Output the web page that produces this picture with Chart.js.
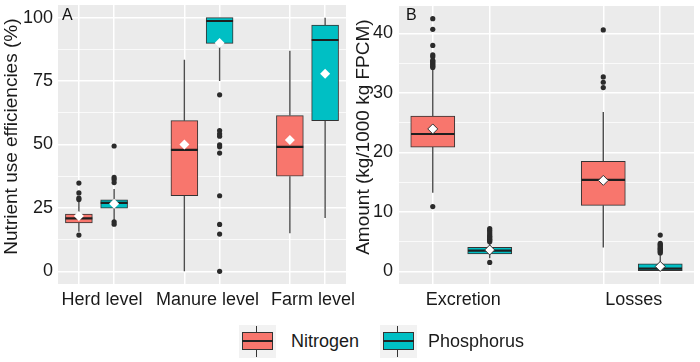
<!DOCTYPE html>
<html>
<head>
<meta charset="utf-8">
<script src="https://cdn.jsdelivr.net/npm/chart.js@4.4.0/dist/chart.umd.min.js"></script>
<style>
  html, body { margin: 0; padding: 0; background: #ffffff; }
  body { width: 700px; height: 362px; position: relative; overflow: hidden;
         font-family: "Liberation Sans", Arial, sans-serif; color: #1a1a1a; }
  canvas { position: absolute; top: 0; }
  .tag { position: absolute; font-size: 16px; line-height: 1; color: #111; }
  .key { position: absolute; top: 325px; width: 37px; height: 33px; background: #F2F2F2; }
  .key .wh { position: absolute; left: 17px; top: 1px; width: 1.3px; height: 31px; background: #333; }
  .key .bx { position: absolute; left: 3px; top: 7px; width: 31px; height: 18px; box-sizing: border-box; border: 1px solid #333; }
  .key .md { position: absolute; left: 3px; top: 15.3px; width: 31px; height: 1.6px; background: #222; }
  .lab { position: absolute; top: 332px; font-size: 18px; line-height: 1; color: #1a1a1a; white-space: nowrap; }
</style>
</head>
<body>
<canvas id="ca" width="370" height="320" style="left:0px;width:370px;height:320px"></canvas>
<canvas id="cb" width="350" height="320" style="left:350px;width:350px;height:320px"></canvas>
<div class="tag" style="left:62px;top:7px">A</div>
<div class="tag" style="left:406px;top:7px">B</div>
<div id="legend"></div>
<script>
// ---------------- data ----------------
const categoriesA = ["Herd level", "Manure level", "Farm level"];
const categoriesB = ["Excretion", "Losses"];
const seriesNames = ["Nitrogen", "Phosphorus"];
const seriesColors = ["#F8766D", "#00BFC4"];
const yTicksA = [0, 25, 50, 75, 100];
const yTicksB = [0, 10, 20, 30, 40];
const yTitleA = "Nutrient use efficiencies (%)";
const yTitleB = "Amount (kg/1000 kg FPCM)";

// five-number summaries: [lower whisker, Q1, median, Q3, upper whisker]
const nitrogenBoxA   = [[15.6, 19.1, 20.9, 22.6, 27.5], [0, 29.8, 47.9, 59.4, 83.4], [15.0, 37.5, 49.1, 61.4, 87.0]];
const phosphorusBoxA = [[20.1, 24.9, 27.0, 28.2, 32.5], [75.0, 89.9, 98.7, 100, 100], [21.0, 59.4, 91.2, 97.1, 100]];
const nitrogenMeanA   = [21.8, 50.0, 51.8];
const phosphorusMeanA = [26.6, 90.0, 77.9];
const nitrogenOutliersA   = [[34.8, 30.9, 28.9, 28.3, 14.3], [], []];
const phosphorusOutliersA = [[49.4, 37.0, 36.2, 35.0, 19.5, 18.6],
                             [69.6, 55.5, 54.2, 53.3, 49.9, 49.1, 46.6, 29.8, 18.5, 14.7, 0], []];

const nitrogenBoxB   = [[13.2, 20.9, 23.1, 26.1, 34.1], [4.0, 11.1, 15.4, 18.5, 26.8]];
const phosphorusBoxB = [[2.2, 2.93, 3.48, 4.03, 4.9], [0, 0, 0.45, 1.27, 2.9]];
const nitrogenMeanB   = [23.95, 15.3];
const phosphorusMeanB = [3.6, 0.83];
const nitrogenOutliersB   = [[42.5, 40.7, 38.0, 36.4, 36.1, 35.5, 35.3, 35.1, 34.9, 34.7, 34.5, 34.3, 10.9],
                             [40.6, 32.7, 31.8, 30.9]];
const phosphorusOutliersB = [[7.2, 6.9, 6.6, 6.3, 6.0, 5.8, 5.6, 5.4, 5.2, 5.0, 1.5],
                             [6.1, 4.7, 4.5, 4.3, 4.1, 3.9, 3.7, 3.5, 3.3, 3.1]];

// ---------------- drawing ----------------
Chart.defaults.font.family = "'Liberation Sans', Arial, sans-serif";
const TEXT = "#1a1a1a";

const panelBg = {
  id: "panelBg",
  beforeDraw(chart) {
    const a = chart.chartArea, ctx = chart.ctx;
    ctx.save();
    ctx.fillStyle = "#EBEBEB";
    ctx.fillRect(a.left, a.top, a.right - a.left, a.bottom - a.top);
    ctx.restore();
  }
};

function makePanel(o) {
  const n = o.categories.length;
  const xMin = 1 - 0.365, xMax = n + 0.365;
  const plotW = o.width - o.axisWidth - o.rightPad;
  const ppu = plotW / (xMax - xMin);
  const boxW = 0.255, dodge = 0.167;
  const boxes = [o.nBox, o.pBox], means = [o.nMean, o.pMean], outs = [o.nOut, o.pOut];
  const whisk = [], meds = [], outPts = [], meanPts = [], bars = [];
  const boxPositions = [];
  boxes.forEach((list, s) => {
    const barData = [];
    list.forEach((b, i) => {
      const x = i + 1 + (s === 0 ? -dodge : dodge);
      boxPositions.push(x);
      whisk.push({x, y: b[0]}, {x, y: b[1]}, {x, y: null}, {x, y: b[3]}, {x, y: b[4]}, {x, y: null});
      meds.push({x: x - boxW / 2, y: b[2]}, {x: x + boxW / 2, y: b[2]}, {x, y: null});
      barData.push({x, y: [b[1], b[3]]});
      outs[s][i].forEach(v => outPts.push({x, y: v}));
      meanPts.push({x, y: means[s][i]});
    });
    bars.push({
      type: "bar", label: seriesNames[s], data: barData,
      backgroundColor: seriesColors[s], borderColor: "#333333", borderWidth: 1,
      borderSkipped: false, barThickness: boxW * ppu, grouped: false, order: 5
    });
  });
  const labelValues = o.categories.map((c, i) => i + 1 + o.labelShift / ppu);
  const xTicks = boxPositions.concat(labelValues).sort((a, b) => a - b);
  const isBox = v => boxPositions.some(p => Math.abs(p - v) < 1e-9);

  const majors = o.yTicks;
  const step = majors[1] - majors[0];
  const yTickVals = [];
  majors.forEach((m, i) => { yTickVals.push(m); if (i < majors.length - 1) yTickVals.push(m + step / 2); });
  const lo = o.yLo, hi = o.yHi, pad = (hi - lo) * 0.05;

  const datasets = [
    {type: "line", data: whisk, borderColor: "#4d4d4d", borderWidth: 1.4, pointRadius: 0, pointHoverRadius: 0, spanGaps: false, order: 6},
    ...bars,
    {type: "line", data: meds, borderColor: "#1f1f1f", borderWidth: 2.2, pointRadius: 0, pointHoverRadius: 0, spanGaps: false, order: 4},
    {type: "scatter", data: outPts, pointRadius: 2.6, pointBackgroundColor: "#2b2b2b", pointBorderWidth: 0, order: 3},
    {type: "scatter", data: meanPts, pointStyle: "rectRot", pointRadius: 5,
     pointBackgroundColor: "#ffffff", pointBorderColor: o.meanBorder, pointBorderWidth: o.meanBorderWidth, order: 2}
  ];

  return new Chart(document.getElementById(o.canvas), {
    type: "scatter",
    data: {datasets},
    plugins: [panelBg],
    options: {
      responsive: false, animation: false, devicePixelRatio: 1, events: [],
      layout: {padding: {top: 3, right: o.rightPad, bottom: 0, left: 0}},
      plugins: {legend: {display: false}, tooltip: {enabled: false}},
      scales: {
        x: {
          type: "linear", min: xMin, max: xMax, offset: false,
          afterBuildTicks: s => { s.ticks = xTicks.map(v => ({value: v})); },
          afterFit: s => { s.height = 36; s.paddingLeft = 0; s.paddingRight = 0; s.paddingTop = 0; s.paddingBottom = 0; },
          ticks: {
            autoSkip: false, maxRotation: 0, minRotation: 0, padding: 5, color: TEXT, font: {size: 18},
            callback: v => { const k = labelValues.findIndex(l => Math.abs(l - v) < 1e-9); return k >= 0 ? o.categories[k] : ""; }
          },
          grid: {
            drawTicks: false, offset: false, lineWidth: 1.5,
            color: ctx => (ctx.tick && isBox(ctx.tick.value)) ? "#ffffff" : "rgba(0,0,0,0)"
          },
          border: {display: false}
        },
        y: {
          type: "linear", min: lo - pad, max: hi + pad,
          afterBuildTicks: s => { s.ticks = yTickVals.map(v => ({value: v})); },
          afterFit: s => { s.width = o.axisWidth; s.paddingTop = 0; s.paddingBottom = 0; s.paddingLeft = 0; s.paddingRight = 0; },
          ticks: {
            autoSkip: false, padding: o.tickPad, color: TEXT, font: {size: 18},
            callback: v => majors.includes(v) ? String(v) : ""
          },
          grid: {
            drawTicks: false, color: "#ffffff",
            lineWidth: ctx => (ctx.tick && majors.includes(ctx.tick.value)) ? 1.5 : 0.75
          },
          border: {display: false},
          title: {display: true, text: o.title, color: TEXT, font: {size: 19}, padding: {top: o.titlePad, bottom: 0}}
        }
      }
    }
  });
}

makePanel({
  canvas: "ca", width: 370, axisWidth: 58, rightPad: 24, labelShift: 5.5, tickPad: 5, titlePad: 0,
  categories: categoriesA, nBox: nitrogenBoxA, pBox: phosphorusBoxA,
  nMean: nitrogenMeanA, pMean: phosphorusMeanA, nOut: nitrogenOutliersA, pOut: phosphorusOutliersA,
  yTicks: yTicksA, yLo: 0, yHi: 100, title: "   " + yTitleA,
  meanBorder: "#ffffff", meanBorderWidth: 0
});
makePanel({
  canvas: "cb", width: 350, axisWidth: 49, rightPad: 2, labelShift: 2, tickPad: 6, titlePad: 2,
  categories: categoriesB, nBox: nitrogenBoxB, pBox: phosphorusBoxB,
  nMean: nitrogenMeanB, pMean: phosphorusMeanB, nOut: nitrogenOutliersB, pOut: phosphorusOutliersB,
  yTicks: yTicksB, yLo: 0, yHi: 42.5, title: "   " + yTitleB,
  meanBorder: "#333333", meanBorderWidth: 1
});

// ---------------- legend ----------------
const legend = document.getElementById("legend");
const keyLefts = [239, 380], labLefts = [291, 428];
seriesNames.forEach((name, i) => {
  const k = document.createElement("div");
  k.className = "key"; k.style.left = keyLefts[i] + "px";
  k.innerHTML = '<div class="wh"></div><div class="bx" style="background:' + seriesColors[i] + '"></div><div class="md"></div>';
  legend.appendChild(k);
  const t = document.createElement("div");
  t.className = "lab"; t.style.left = labLefts[i] + "px"; t.textContent = name;
  legend.appendChild(t);
});
</script>
</body>
</html>
